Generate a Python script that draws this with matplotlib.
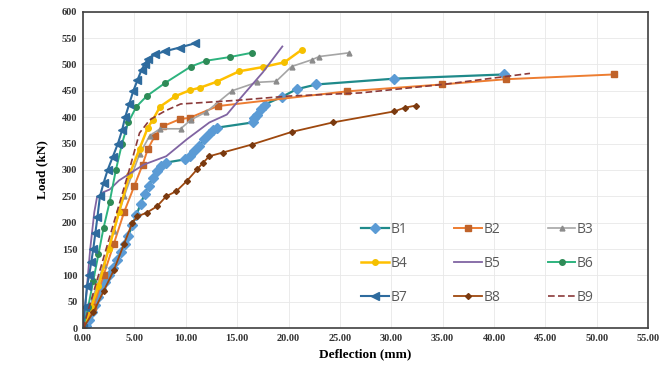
import matplotlib
matplotlib.use("Agg")
import matplotlib.pyplot as plt

b1_x = [0, 0.3, 0.6, 0.9, 1.2, 1.5, 1.8, 2.1, 2.5, 2.9, 3.3, 3.7, 4.1, 4.4, 4.8, 5.2, 5.6, 6.0, 6.4, 6.8, 7.2, 7.6, 8.1, 9.9, 10.4, 10.8, 11.3, 11.8, 12.3, 12.7, 13.0, 16.5, 16.6, 16.9, 17.3, 17.7, 19.4, 20.8, 22.7, 30.3, 41.0]
b1_y = [0, 5, 15, 30, 45, 60, 75, 88, 100, 115, 130, 145, 160, 175, 195, 215, 235, 255, 270, 285, 298, 308, 314, 320, 326, 335, 345, 358, 368, 375, 380, 390, 398, 405, 415, 424, 439, 453, 462, 473, 481]
b2_x = [0, 1, 2, 3, 4, 5, 5.8, 6.3, 7.0, 7.8, 9.4, 10.4, 13.1, 25.7, 34.9, 41.2, 51.7]
b2_y = [0, 40, 100, 160, 220, 270, 310, 339, 365, 383, 396, 399, 421, 449, 462, 472, 481]
b3_x = [0, 1, 2, 3, 4, 5.5, 6.5, 7.5, 9.5, 10.5, 12, 14.5, 16.9, 18.8, 20.3, 22.3, 23.0, 25.9]
b3_y = [0, 60, 120, 185, 250, 330, 365, 378, 378, 395, 410, 450, 466, 468, 496, 509, 515, 522]
b4_x = [0, 0.8, 1.5, 2.5, 3.5, 4.5, 5.5, 6.3, 6.8, 7.5, 9.0, 10.4, 11.4, 13.0, 15.2, 17.5, 19.6, 21.3]
b4_y = [0, 40, 80, 150, 220, 290, 340, 380, 395, 420, 440, 451, 456, 467, 487, 495, 504, 528]
b5_x = [0, 0.3, 0.7, 1.1, 1.36, 2.0, 2.6, 3.5, 4.7, 5.9, 8.1, 10.1, 12.3, 14.0, 15.5, 17.5, 19.4]
b5_y = [0, 60, 150, 220, 248, 258, 263, 280, 295, 310, 326, 358, 390, 405, 440, 485, 534]
b6_x = [0, 0.5, 1.0, 1.5, 2.0, 2.6, 3.2, 3.8, 4.4, 5.2, 6.2, 8.0, 10.5, 12.0, 14.3, 16.4]
b6_y = [0, 40, 90, 140, 190, 240, 300, 350, 390, 420, 440, 465, 496, 507, 514, 522]
b7_x = [0, 0.2, 0.4, 0.6, 0.8, 1.0, 1.2, 1.4, 1.65, 2.0, 2.4, 2.9, 3.4, 3.8, 4.1, 4.5, 4.9, 5.3, 5.7, 6.0, 6.3, 7.0, 8.0, 9.4, 10.9]
b7_y = [0, 40, 80, 100, 125, 150, 180, 210, 250, 275, 300, 325, 350, 375, 400, 425, 450, 470, 490, 500, 510, 519, 525, 532, 540]
b8_x = [0, 1, 2, 3, 4, 4.8, 5.3, 6.2, 7.2, 8.1, 9.1, 10.1, 11.1, 11.7, 12.3, 13.6, 16.4, 20.3, 24.3, 30.3, 31.3, 32.4]
b8_y = [0, 30, 70, 110, 160, 200, 212, 219, 231, 250, 260, 279, 301, 314, 326, 333, 348, 372, 390, 411, 418, 422]
b9_x = [0, 1.5, 3.0, 4.5, 5.5, 6.5, 8.0, 9.5, 15.0, 20.0, 27.0, 35.0, 43.5]
b9_y = [0, 100, 200, 300, 370, 395, 412, 425, 432, 440, 446, 462, 483]

series_names = ["B1", "B2", "B3", "B4", "B5", "B6", "B7", "B8", "B9"]
x_ticks = [0, 5, 10, 15, 20, 25, 30, 35, 40, 45, 50, 55]
y_ticks = list(range(0, 601, 50))

fig = plt.figure(figsize=(6.72, 3.76), dpi=100)
ax = fig.add_axes([0.1235, 0.127, 0.841, 0.842])

styles = {
    "B1": dict(color="#1f8a8a", marker="D", ms=5.5, mfc="#5b9bd5", mec="#5b9bd5", lw=1.6),
    "B2": dict(color="#ed7d31", marker="s", ms=4, mfc="#c0632a", mec="#c0632a", lw=1.4),
    "B3": dict(color="#a5a5a5", marker="^", ms=3.5, mfc="#8c8c8c", mec="#8c8c8c", lw=1.2),
    "B4": dict(color="#ffc000", marker="o", ms=4, mfc="#f5c000", mec="#f5c000", lw=1.8),
    "B5": dict(color="#8064a2", marker="", lw=1.3),
    "B6": dict(color="#2db37e", marker="o", ms=4, mfc="#2e8b57", mec="#2e8b57", lw=1.4),
    "B7": dict(color="#2e6b9e", marker="<", ms=5.5, mfc="#2e6b9e", mec="#2e6b9e", lw=1.5),
    "B8": dict(color="#9e480e", marker="D", ms=3, mfc="#7a3a10", mec="#7a3a10", lw=1.3),
    "B9": dict(color="#8b3a3a", marker="", lw=1.2, ls=(0, (4, 2))),
}
data = {
    "B1": (b1_x, b1_y), "B2": (b2_x, b2_y), "B3": (b3_x, b3_y),
    "B4": (b4_x, b4_y), "B5": (b5_x, b5_y), "B6": (b6_x, b6_y),
    "B7": (b7_x, b7_y), "B8": (b8_x, b8_y), "B9": (b9_x, b9_y),
}
handles = {}
for name in series_names:
    xs, ys = data[name]
    (ln,) = ax.plot(xs, ys, label=name, **styles[name])
    handles[name] = ln

ax.set_xlim(0, 55)
ax.set_ylim(0, 600)
ax.set_xticks(x_ticks)
ax.set_xticklabels([f"{v:.2f}" for v in x_ticks])
ax.set_yticks(y_ticks)
ax.grid(True, color="#e8e8e8", lw=0.6)
ax.set_axisbelow(True)
for s in ax.spines.values():
    s.set_color("#404040")
    s.set_linewidth(1.2)
ax.tick_params(length=0, pad=4)
for lab in ax.get_xticklabels() + ax.get_yticklabels():
    lab.set_fontfamily("Liberation Serif")
    lab.set_fontweight("bold")
    lab.set_fontsize(7.5)
    lab.set_color("#333333")
ax.set_xlabel("Deflection (mm)", fontfamily="Liberation Serif", fontweight="bold", fontsize=9.5, labelpad=4)
ax.set_ylabel("Load (kN)", fontfamily="Liberation Serif", fontweight="bold", fontsize=9.5, labelpad=10)

# row-major ordering for a 3-column legend
order = ["B1", "B4", "B7", "B2", "B5", "B8", "B3", "B6", "B9"]
leg = ax.legend([handles[n] for n in order], order, ncol=3, loc="upper left",
                bbox_to_anchor=(0.47, 0.375), frameon=False,
                prop={"family": "Open Sans", "size": 10}, handlelength=2.0, handletextpad=0.1,
                columnspacing=3.4, labelspacing=1.35)
for t in leg.get_texts():
    t.set_color("#595959")

fig.savefig("out.png", dpi=100)
